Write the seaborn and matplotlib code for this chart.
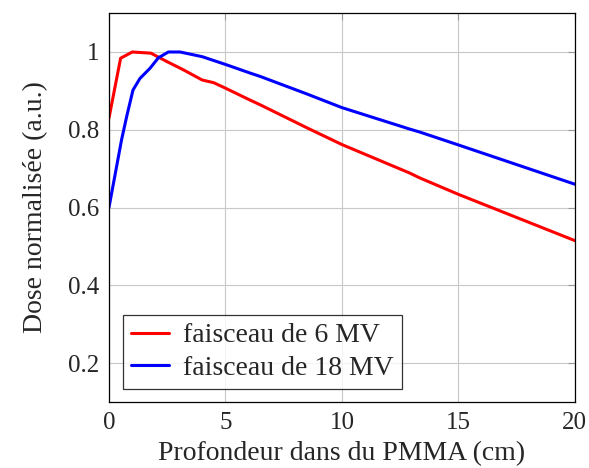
import pandas as pd
import matplotlib.pyplot as plt
import seaborn as sns

# Depth-dose curves
depth_6mv = [0, 0.5, 1.0, 1.8, 2.5, 3.2, 4.0, 4.5, 5.0, 6.0, 6.5, 8.5, 10, 12.9, 13.35, 15, 20]
dose_6mv = [0.83, 0.984, 1.0, 0.997, 0.975, 0.954, 0.928, 0.921, 0.907, 0.878, 0.864, 0.805, 0.762, 0.689, 0.676, 0.634, 0.515]

depth_18mv = [0, 0.54, 0.76, 1.03, 1.33, 1.76, 2.12, 2.55, 3.05, 4.0, 5.05, 6.05, 6.5, 8.5, 10, 12.9, 13.35, 15, 20]
dose_18mv = [0.60, 0.774, 0.834, 0.902, 0.932, 0.958, 0.985, 1.0, 1.0, 0.988, 0.967, 0.946, 0.937, 0.892, 0.857, 0.802, 0.794, 0.761, 0.66]

labels = ["faisceau de 6 MV", "faisceau de 18 MV"]


def build_frame():
    df6 = pd.DataFrame({"depth": depth_6mv, "dose": dose_6mv, "beam": labels[0]})
    df18 = pd.DataFrame({"depth": depth_18mv, "dose": dose_18mv, "beam": labels[1]})
    return pd.concat([df6, df18], ignore_index=True)


def main():
    df = build_frame()

    sns.set_style("white")
    plt.rcParams["font.family"] = ["Liberation Serif", "DejaVu Serif"]

    fig, ax = plt.subplots(figsize=(5.89, 4.68), dpi=100)
    sns.lineplot(data=df, x="depth", y="dose", hue="beam", sort=False,
                 palette={labels[0]: "#ff0000", labels[1]: "#0000ff"},
                 linewidth=2.2, ax=ax)

    ax.set_xlim(0, 20)
    ax.set_ylim(0.1, 1.1)
    ax.set_xticks([0, 5, 10, 15, 20])
    ax.set_yticks([0.2, 0.4, 0.6, 0.8, 1.0])
    ax.set_yticklabels(["0.2", "0.4", "0.6", "0.8", "1"])
    ax.grid(True, color="#c8c8c8", linewidth=0.8)
    ax.set_axisbelow(True)
    ax.tick_params(direction="in", length=5, color="#999999", labelsize=18,
                   top=True, right=True, pad=7)
    for s in ax.spines.values():
        s.set_color("black")
        s.set_linewidth(0.9)

    ax.set_xlabel("Profondeur dans du PMMA (cm)", fontsize=20, labelpad=5)
    ax.set_ylabel("Dose normalisée (a.u.)", fontsize=20, labelpad=14)

    leg = ax.legend(loc="lower left", fontsize=20, frameon=True, fancybox=False,
                    edgecolor="black", handlelength=1.35, handletextpad=0.5,
                    borderpad=0.3, labelspacing=0.25, borderaxespad=0,
                    bbox_to_anchor=(0.03, 0.033))
    leg.get_frame().set_linewidth(0.9)

    fig.subplots_adjust(left=0.185, right=0.976, top=0.972, bottom=0.141)
    plt.savefig("out.png", dpi=100)
    plt.close()


if __name__ == "__main__":
    main()
